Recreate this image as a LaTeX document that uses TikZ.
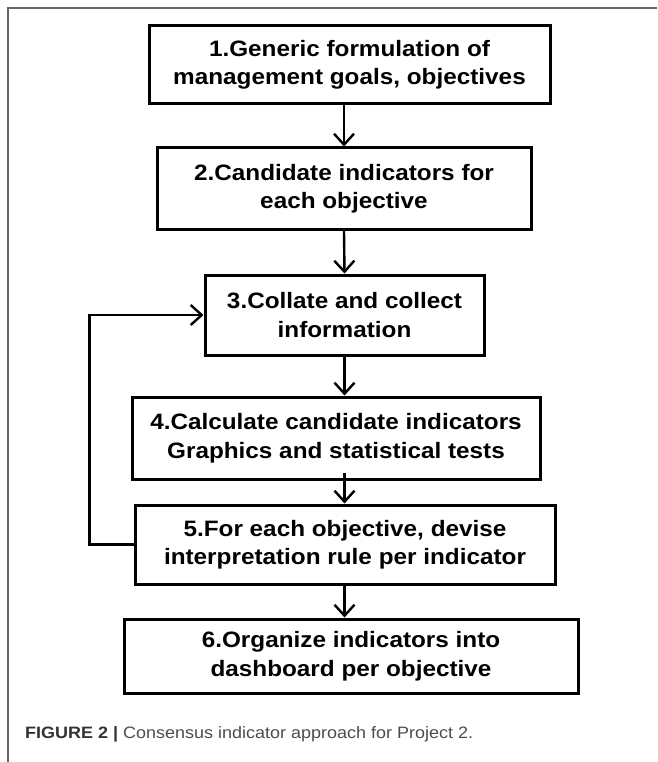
\documentclass[tikz,border=0pt]{standalone}
\usepackage{fontspec}
\setmainfont{Liberation Sans}[FakeStretch=1.09]
\usetikzlibrary{arrows.meta}
\tikzstyle{stage} = [rectangle, draw=black, line width=3pt, align=center, inner sep=0pt,
  font=\fontsize{22.3}{28.5}\selectfont\bfseries]
\tikzstyle{flow} = [line width=2.4pt, -{Straight Barb[length=11pt, width=20pt, line width=2.4pt]}]

\begin{document}
\begin{tikzpicture}[x=1pt, y=-1pt]
					\useasboundingbox (0,0) rectangle (657,762);
					\draw[line width=1.5pt, draw=black!60] (657,8) -- (8,8) -- (8,762);
					\node [stage, minimum width=401pt, minimum height=78pt] (goals) at (349.5,65) {1.Generic formulation of\\management goals, objectives};
					\node [stage, minimum width=374pt, minimum height=81pt] (cand) at (344,188.5) {2.Candidate indicators for\\each objective};
					\node [stage, minimum width=279pt, minimum height=80pt] (coll) at (344.5,315) {3.Collate and collect\\information};
					\node [stage, minimum width=408pt, minimum height=82pt] (calc) at (336,438) {4.Calculate candidate indicators\\Graphics and statistical tests};
					\node [stage, minimum width=420pt, minimum height=79pt] (rule) at (345,544.5) {5.For each objective, devise\\interpretation rule per indicator};
					\node [stage, minimum width=454pt, minimum height=74pt] (dash) at (351,656) {6.Organize indicators into\\dashboard per objective};
					\draw[flow] (goals.south -| 344,0) -- (cand.north);
					\draw[flow] (cand.south) -- (coll.north);
					\draw[flow] (coll.south) -- (calc.north -| coll.south);
					\draw[flow] ([yshift=8pt]calc.south -| coll.south) -- (rule.north -| coll.south);
					\draw[flow] (rule.south -| coll.south) -- (dash.north -| coll.south);
					\draw[flow] (rule.west) -- ++(-44,0) |- (coll.west);
					\node [anchor=base west, inner sep=0pt, font=\fontsize{16.5}{20}\selectfont, text=black!70] (capt) at (25,738)
						{\textbf{\color{black!80}FIGURE 2 |} Consensus indicator approach for Project 2.};
				\end{tikzpicture}
\end{document}
